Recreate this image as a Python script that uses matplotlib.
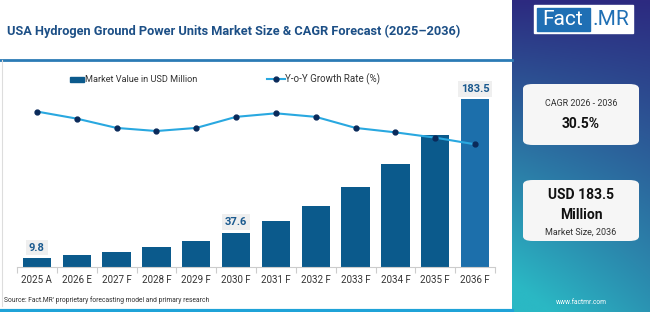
import numpy as np
import matplotlib
matplotlib.use("Agg")
import matplotlib.pyplot as plt
from matplotlib.patches import FancyBboxPatch, Rectangle
from matplotlib.lines import Line2D

# chart data
years = ["2025 A", "2026 E", "2027 F", "2028 F", "2029 F", "2030 F",
         "2031 F", "2032 F", "2033 F", "2034 F", "2035 F", "2036 F"]
market_value = [9.8, 12.8, 16.4, 21.5, 28.1, 37.6, 50.0, 66.7, 87.2, 112.7, 144.4, 183.5]
growth_rate = [34.4, 32.8, 30.7, 30.0, 30.7, 33.2, 34.0, 33.2, 30.7, 29.7, 28.5, 27.0]
labelled = {0: "9.8", 5: "37.6", 11: "183.5"}

title = "USA Hydrogen Ground Power Units Market Size & CAGR Forecast (2025\u20132036)"
cagr_label = "CAGR 2026 - 2036"
cagr_value = "30.5%"
size_value = "USD 183.5\nMillion"
size_label = "Market Size, 2036"
source = "Source: Fact.MR' proprietary forecasting model and primary research"

W, H = 650, 312
plt.rcParams['font.family'] = ['Roboto', 'DejaVu Sans']

fig = plt.figure(figsize=(W / 100, H / 100), dpi=100)
fig.patch.set_facecolor("white")


def box(x, y, w, h):
    # pixel box (top-left origin) -> figure fraction rect
    return [x / W, 1 - (y + h) / H, w / W, h / H]


def fx(x):
    return x / W


def fy(y):
    return 1 - y / H


# right gradient panel
pan = fig.add_axes(box(512, 0, 138, 312))
gx, gy = np.meshgrid(np.linspace(0, 1, 80), np.linspace(0, 1, 200))
t = np.clip(0.75 * gy + 0.35 * (1 - gx) * gy, 0, 1)
top = np.array([0x2d, 0x2a, 0x80]) / 255
bot = np.array([0x2a, 0xb8, 0xc4]) / 255
img = top[None, None, :] * (1 - t[..., None]) + bot[None, None, :] * t[..., None]
pan.imshow(img, aspect="auto", extent=[0, 1, 1, 0])
pan.set_xlim(0, 1)
pan.set_ylim(1, 0)
pan.axis("off")

# title and frame lines
fig.text(fx(7), fy(31), title, fontsize=9.15, fontweight="bold", color="#1c4f86",
         va="center", ha="left")
fig.add_artist(Line2D([0, fx(512)], [fy(59.5)] * 2, color="#2b7bb5", lw=2))
fig.add_artist(Line2D([fx(2)] * 2, [fy(60), fy(306)], color="#dddddd", lw=0.8))
fig.add_artist(Line2D([0, fx(512)], [fy(310.5)] * 2, color="#1fa3d8", lw=3))
fig.text(fx(4), fy(300), source, fontsize=4.9, color="#333333", va="center")

# main chart
ax = fig.add_axes(box(17, 75, 478, 192))
x = np.arange(len(years))
colors = ["#0b5a8c"] * (len(years) - 1) + ["#1c6fab"]
ax.bar(x, market_value, width=0.71, color=colors, zorder=2)
ax.set_xlim(-0.5, len(years) - 0.5)
ax.set_ylim(0, 210)
for i, lab in labelled.items():
    ax.text(x[i], market_value[i] + 6, lab, ha="center", va="bottom", fontsize=8,
            fontweight="bold", color="#1b5a8f",
            bbox=dict(boxstyle="square,pad=0.25", fc="#efefef", ec="none"))
for s in ["top", "right", "left"]:
    ax.spines[s].set_visible(False)
ax.spines["bottom"].set_color("#cccccc")
ax.spines["bottom"].set_linewidth(0.8)
ax.set_yticks([])
ax.set_xticks(x)
ax.set_xticklabels(years, fontsize=7, color="#333333")
ax.tick_params(axis="x", which="major", length=0, pad=6)
ax.set_xticks(np.arange(-0.5, len(years)), minor=True)
ax.tick_params(axis="x", which="minor", length=4, color="#cccccc", width=0.8)
ax.patch.set_alpha(0)

ax2 = ax.twinx()
ax2.plot(x, growth_rate, color="#29a8e0", lw=1.5, marker="o", ms=3.5,
         mfc="#0a2a5a", mec="#0a2a5a", zorder=3)
ax2.set_ylim(-0.7, 42.65)
ax2.axis("off")

# legend
fig.add_artist(Rectangle((fx(70), fy(82)), fx(14), 5 / H, color="#0b5a8c"))
fig.text(fx(85), fy(79), "Market Value in USD Million", fontsize=6.6, color="#333333",
         va="center")
fig.add_artist(Line2D([fx(267), fx(285)], [fy(79)] * 2, color="#29a8e0", lw=1.5))
fig.add_artist(Line2D([fx(276)], [fy(79)], marker="o", ms=3.5, color="#0a2a5a"))
fig.text(fx(285), fy(79), "Y-o-Y Growth Rate (%)", fontsize=7, color="#333333",
         va="center")

# logo
fig.add_artist(Rectangle((fx(534), fy(33)), fx(99), 28 / H, color="white"))
fig.add_artist(Rectangle((fx(537), fy(31)), fx(53), 23 / H, color="#1f6fb4"))
fig.text(fx(563), fy(19.5), "Fact", fontsize=15, color="white", ha="center", va="center")
fig.text(fx(611), fy(19.5), ".MR", fontsize=15, color="#1f6fb4", ha="center",
         va="center")

# cards
for cy, ch in [(84, 61), (180, 61)]:
    fig.add_artist(FancyBboxPatch((fx(523), fy(cy + ch)), fx(116), ch / H,
                                  boxstyle="round,pad=0,rounding_size=0.015",
                                  fc="#f6f6f6", ec="none"))
fig.text(fx(581), fy(104), cagr_label, fontsize=6.4, color="#333333", ha="center",
         va="center")
fig.text(fx(581), fy(124), cagr_value, fontsize=10, fontweight="bold", color="#111111",
         ha="center", va="center")
fig.text(fx(581), fy(205), size_value, fontsize=10, fontweight="bold", color="#111111",
         ha="center", va="center", linespacing=1.55)
fig.text(fx(581), fy(232), size_label, fontsize=6.5, color="#333333", ha="center",
         va="center")
fig.text(fx(581), fy(303), "www.factmr.com", fontsize=4.8, color="white", ha="center",
         va="center")

fig.savefig("out.png", dpi=100)
